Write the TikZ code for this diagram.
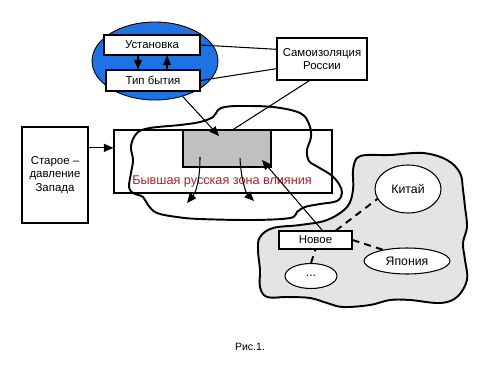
\documentclass[tikz,border=0pt]{standalone}
\usepackage{fontspec}
\setmainfont{Liberation Sans}
\usetikzlibrary{positioning, arrows.meta, shapes, calc}
\definecolor{cBlue}{HTML}{1F72E4}
\definecolor{cRed}{HTML}{B41F26}
\definecolor{cGrayRect}{HTML}{C0C0C0}
\definecolor{cGrayZone}{HTML}{E4E4E4}
\newcommand{\boxfont}{\fontsize{6.5}{7.8}\selectfont}
\newcommand{\ellfont}{\fontsize{7}{8.4}\selectfont}

\begin{document}
\begin{tikzpicture}[x=0.02cm, y=-0.02cm,
    box/.style={draw, fill=white, line width=0.6pt, inner sep=0pt, font=\boxfont, align=center},
    oval/.style={ellipse, draw, fill=white, line width=0.6pt, inner sep=0pt, font=\ellfont},
    arrow/.style={-{Triangle[length=5.5pt, width=4.6pt]}, line width=0.6pt},
    link/.style={line width=0.6pt},
    wave/.style={line width=1.1pt, line join=round},
    dashlink/.style={line width=1.1pt, dash pattern=on 4pt off 3pt}
  ]
    \fill[white] (0,0) rectangle (500,375);
    \useasboundingbox (0,0) rectangle (500,375);

    % right zone
    \draw[wave, fill=cGrayZone] plot[smooth cycle, tension=0.6] coordinates {
      (357,158) (367,155) (390,155) (423,153) (447,160) (460,173) (463,190) (465,207)
      (467,227) (463,243) (465,260) (467,280) (457,297) (440,303) (410,300) (390,300)
      (370,305) (343,307) (327,303) (310,298) (287,297) (267,297) (260,287) (260,270)
      (258,250) (260,237) (273,228) (300,225) (327,220) (347,207) (353,190) (353,170)};

    % former zone
    \node[box, minimum width=4.36cm, minimum height=1.26cm] (big) at (223,161.5) {};
    \node[box, fill=cGrayRect, minimum width=1.76cm, minimum height=0.74cm] (gray) at (227,148.5) {};
    \node[text=cRed, font=\fontsize{7.2}{8.6}\selectfont] (former) at (222,181) {Бывшая русская зона влияния};
    \draw[wave] plot[smooth cycle, tension=0.6] coordinates {
      (150,128) (180,125) (200,122) (213,117) (218,110) (225,107) (240,106) (273,107)
      (300,113) (309,124) (311,137) (307,150) (309,161) (318,167) (331,175) (339,184)
      (342,193) (337,201) (320,204) (305,207) (297,212) (290,218) (253,220) (200,219)
      (177,217) (157,213) (148,205) (143,197) (133,193) (129,187) (131,173) (133,160)
      (131,146) (137,133)};

    % top group
    \node[ellipse, draw, fill=cBlue, line width=0.5pt, minimum width=2.52cm, minimum height=1.56cm] (mind) at (155,61) {};
    \node[box, minimum width=1.92cm, minimum height=0.4cm] (ust) at (152,45) {Установка};
    \node[box, minimum width=1.88cm, minimum height=0.42cm] (tip) at (153,80.5) {Тип бытия};
    \node[box, minimum width=1.8cm, minimum height=0.84cm] (samo) at (322,59) {Самоизоляция\\России};
    \draw[arrow] ([xshift=-0.28cm]ust.south) -- ([xshift=-0.28cm]ust.south |- tip.north);
    \draw[arrow] ([xshift=0.3cm]ust.south |- tip.north) -- ([xshift=0.3cm]ust.south);
    \draw[link] (ust.east) -- (samo.168);
    \draw[link] (tip.east) -- (samo.192);
    \draw[link] (samo.240) -- (gray.72);

    \coordinate (hit) at (219,136);
    \draw[arrow] (mind.-52) -- (hit);

    % west
    \node[box, minimum width=1.32cm, minimum height=1.92cm] (old) at (55,175) {Старое –\\давление\\Запада};
    \draw[arrow] (old.39) -- (big.west |- old.39);

    % flows out of the zone
    \coordinate (outA) at (200,157);
    \coordinate (dropA) at (187,203);
    \coordinate (outB) at (240,158);
    \coordinate (dropB) at (254,201);
    \draw[arrow] (outA) .. controls (200,180) and (196,192) .. (dropA);
    \draw[arrow] (outB) .. controls (241,180) and (246,193) .. (dropB);

    % east
    \node[oval, minimum width=1.32cm, minimum height=0.96cm] (china) at (408,189) {Китай};
    \node[oval, minimum width=1.72cm, minimum height=0.52cm] (japan) at (407,261) {Япония};
    \node[oval, minimum width=1.04cm, minimum height=0.5cm] (dots) at (311,276) {...};
    \node[box, minimum width=1.46cm, minimum height=0.36cm] (new) at (315.5,240) {Новое};
    \draw[dashlink] (new.25) -- (china.198);
    \draw[dashlink] (new.east) -- (japan.155);
    \draw[dashlink] (dots.north) -- (new.south);

    \coordinate (hitN) at (262,160);
    \draw[arrow] (new.54) -- (hitN);

    \node[font=\fontsize{6}{7}\selectfont] (caption) at (250,347) {Рис.1.};
  \end{tikzpicture}
\end{document}
